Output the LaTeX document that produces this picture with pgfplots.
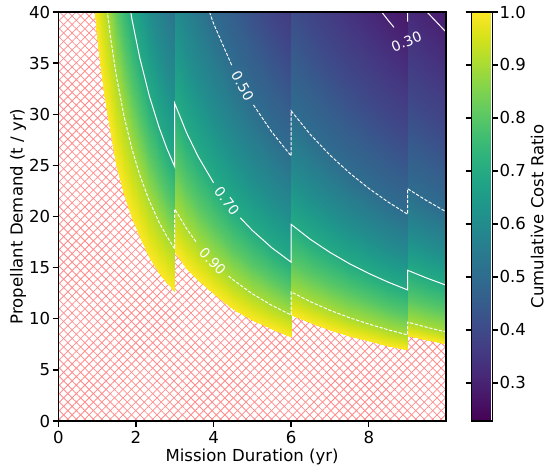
\documentclass[border=0pt]{standalone}
\usepackage{fontspec}
\setmainfont{DejaVu Sans}
\usepackage{pgfplots}
\pgfplotsset{compat=1.18}
\usetikzlibrary{patterns.meta}
\newcommand{\mainfs}{\fontsize{12.4}{14}\selectfont}
\newcommand{\lblfs}{\fontsize{10.5}{12}\selectfont}
\begin{document}
\begin{tikzpicture}
\begin{axis}[
  name=main,
  scale only axis, width=290.8pt, height=306.75pt,
  xmin=0, xmax=9.99, ymin=0, ymax=40,
  xtick={0,2,4,6,8}, ytick={0,5,10,15,20,25,30,35,40},
  tick align=outside, tick pos=left,
  major tick length=4.3pt,
  every tick/.style={black, line width=1pt},
  axis line style={line width=1pt},
  /pgf/number format/assume math mode=true,
  ticklabel style={font=\mainfs},
  yticklabel style={inner xsep=1.5pt},
  label style={font=\mainfs},
  xlabel={Mission Duration (yr)},
  ylabel={Propellant Demand (t / yr)},
  xlabel style={at={(axis description cs:0.5,-0.088)}, anchor=center},
  ylabel style={at={(axis description cs:-0.104,0.5)}, anchor=center},
  colormap/viridis, point meta min=0.228, point meta max=1,
  colorbar,
  colorbar shift/.style={xshift=18.5pt},
  colorbar style={
    width=15.75pt,
    ytick={0.3,0.4,0.5,0.6,0.7,0.8,0.9,1.0},
    tick align=outside, major tick length=4.3pt,
    every tick/.style={black, line width=1pt},
    axis line style={line width=1pt},
    yticklabel style={font=\mainfs, inner xsep=1pt, /pgf/number format/.cd, fixed, fixed zerofill, precision=1, assume math mode=true},
    ylabel={Cumulative Cost Ratio},
    ylabel style={font=\mainfs, at={([xshift=33.75pt]axis description cs:1,0.5)}, anchor=center},
  },
  axis on top,
  axis background/.style={fill=white,
    postaction={pattern={Lines[angle=45,distance=4.5pt,line width=0.6pt]}, pattern color=red!45},
    postaction={pattern={Lines[angle=-45,distance=4.5pt,line width=0.6pt]}, pattern color=red!45}},
]
% segment 1 (t < 3)
\addplot[surf, shader=interp, point meta=explicit, mesh/ordering=y varies, mesh/rows=6, mesh/cols=13]
 table[x index=0, y index=1, meta index=2] {
0.9 41.89 1.0
0.9 56.11 0.9
0.9 68.22 0.8
0.9 82.89 0.7
0.9 105.56 0.6
0.9 138.22 0.5
1.0 37.70 1.0
1.0 50.50 0.9
1.0 61.40 0.8
1.0 74.60 0.7
1.0 95.00 0.6
1.0 124.40 0.5
1.1 34.27 1.0
1.1 45.91 0.9
1.1 55.82 0.8
1.1 67.82 0.7
1.1 86.36 0.6
1.1 113.09 0.5
1.2 31.42 1.0
1.2 42.08 0.9
1.2 51.17 0.8
1.2 62.17 0.7
1.2 79.17 0.6
1.2 103.67 0.5
1.35 27.93 1.0
1.35 37.41 0.9
1.35 45.48 0.8
1.35 55.26 0.7
1.35 70.37 0.6
1.35 92.15 0.5
1.5 25.13 1.0
1.5 33.67 0.9
1.5 40.93 0.8
1.5 49.73 0.7
1.5 63.33 0.6
1.5 82.93 0.5
1.7 22.18 1.0
1.7 29.71 0.9
1.7 36.12 0.8
1.7 43.88 0.7
1.7 55.88 0.6
1.7 73.18 0.5
1.9 19.84 1.0
1.9 26.58 0.9
1.9 32.32 0.8
1.9 39.26 0.7
1.9 50.00 0.6
1.9 65.47 0.5
2.1 17.95 1.0
2.1 24.05 0.9
2.1 29.24 0.8
2.1 35.52 0.7
2.1 45.24 0.6
2.1 59.24 0.5
2.35 16.04 1.0
2.35 21.49 0.9
2.35 26.13 0.8
2.35 31.74 0.7
2.35 40.43 0.6
2.35 52.94 0.5
2.6 14.50 1.0
2.6 19.42 0.9
2.6 23.62 0.8
2.6 28.69 0.7
2.6 36.54 0.6
2.6 47.85 0.5
2.8 13.46 1.0
2.8 18.04 0.9
2.8 21.93 0.8
2.8 26.64 0.7
2.8 33.93 0.6
2.8 44.43 0.5
3.0 12.57 1.0
3.0 16.83 0.9
3.0 20.47 0.8
3.0 24.87 0.7
3.0 31.67 0.6
3.0 41.47 0.5
};
% segment 2 (3 <= t < 6)
\addplot[surf, shader=interp, point meta=explicit, mesh/ordering=y varies, mesh/rows=8, mesh/cols=8]
 table[x index=0, y index=1, meta index=2] {
3.0 16.50 1.0
3.0 20.73 0.9
3.0 25.37 0.8
3.0 31.07 0.7
3.0 40.13 0.6
3.0 51.83 0.5
3.0 69.57 0.4
3.0 92.67 0.3
3.3 15.00 1.0
3.3 18.85 0.9
3.3 23.06 0.8
3.3 28.24 0.7
3.3 36.48 0.6
3.3 47.12 0.5
3.3 63.24 0.4
3.3 84.24 0.3
3.6 13.75 1.0
3.6 17.28 0.9
3.6 21.14 0.8
3.6 25.89 0.7
3.6 33.44 0.6
3.6 43.19 0.5
3.6 57.97 0.4
3.6 77.22 0.3
4.0 12.38 1.0
4.0 15.55 0.9
4.0 19.03 0.8
4.0 23.30 0.7
4.0 30.10 0.6
4.0 38.88 0.5
4.0 52.18 0.4
4.0 69.50 0.3
4.5 11.00 1.0
4.5 13.82 0.9
4.5 16.91 0.8
4.5 20.71 0.7
4.5 26.76 0.6
4.5 34.56 0.5
4.5 46.38 0.4
4.5 61.78 0.3
5.0 9.90 1.0
5.0 12.44 0.9
5.0 15.22 0.8
5.0 18.64 0.7
5.0 24.08 0.6
5.0 31.10 0.5
5.0 41.74 0.4
5.0 55.60 0.3
5.5 9.00 1.0
5.5 11.31 0.9
5.5 13.84 0.8
5.5 16.95 0.7
5.5 21.89 0.6
5.5 28.27 0.5
5.5 37.95 0.4
5.5 50.55 0.3
6.0 8.25 1.0
6.0 10.37 0.9
6.0 12.68 0.8
6.0 15.53 0.7
6.0 20.07 0.6
6.0 25.92 0.5
6.0 34.78 0.4
6.0 46.33 0.3
};
% segment 3 (6 <= t < 9)
\addplot[surf, shader=interp, point meta=explicit, mesh/ordering=y varies, mesh/rows=9, mesh/cols=7]
 table[x index=0, y index=1, meta index=2] {
6.0 10.37 1.0
6.0 12.63 0.9
6.0 15.58 0.8
6.0 19.23 0.7
6.0 24.15 0.6
6.0 30.33 0.5
6.0 41.03 0.4
6.0 55.50 0.3
6.0 64.60 0.25
6.5 9.57 1.0
6.5 11.66 0.9
6.5 14.38 0.8
6.5 17.75 0.7
6.5 22.29 0.6
6.5 28.00 0.5
6.5 37.88 0.4
6.5 51.23 0.3
6.5 59.63 0.25
7.0 8.89 1.0
7.0 10.83 0.9
7.0 13.36 0.8
7.0 16.49 0.7
7.0 20.70 0.6
7.0 26.00 0.5
7.0 35.17 0.4
7.0 47.57 0.3
7.0 55.37 0.25
7.5 8.29 1.0
7.5 10.11 0.9
7.5 12.47 0.8
7.5 15.39 0.7
7.5 19.32 0.6
7.5 24.27 0.5
7.5 32.83 0.4
7.5 44.40 0.3
7.5 51.68 0.25
8.0 7.78 1.0
8.0 9.48 0.9
8.0 11.69 0.8
8.0 14.43 0.7
8.0 18.11 0.6
8.0 22.75 0.5
8.0 30.78 0.4
8.0 41.63 0.3
8.0 48.45 0.25
8.5 7.32 1.0
8.5 8.92 0.9
8.5 11.00 0.8
8.5 13.58 0.7
8.5 17.05 0.6
8.5 21.41 0.5
8.5 28.96 0.4
8.5 39.18 0.3
8.5 45.60 0.25
9.0 6.91 1.0
9.0 8.42 0.9
9.0 10.39 0.8
9.0 12.82 0.7
9.0 16.10 0.6
9.0 20.22 0.5
9.0 27.36 0.4
9.0 37.00 0.3
9.0 43.07 0.25
};
% segment 4 (t >= 9)
\addplot[surf, shader=interp, point meta=explicit, mesh/ordering=y varies, mesh/rows=9, mesh/cols=3]
 table[x index=0, y index=1, meta index=2] {
9.0 8.33 1.0
9.0 9.67 0.9
9.0 11.93 0.8
9.0 14.74 0.7
9.0 18.31 0.6
9.0 22.72 0.5
9.0 30.98 0.4
9.0 42.22 0.3
9.0 49.10 0.25
9.5 7.89 1.0
9.5 9.16 0.9
9.5 11.31 0.8
9.5 13.97 0.7
9.5 17.35 0.6
9.5 21.53 0.5
9.5 29.35 0.4
9.5 40.00 0.3
9.5 46.52 0.25
10.0 7.50 1.0
10.0 8.70 0.9
10.0 10.74 0.8
10.0 13.27 0.7
10.0 16.48 0.6
10.0 20.45 0.5
10.0 27.88 0.4
10.0 38.00 0.3
10.0 44.19 0.25
};
% contour 0.90 (dashed)
\addplot[white, mark=none, line width=0.7pt, dash pattern=on 2.5pt off 1.2pt] coordinates {
(1.2,42.08) (1.35,37.41) (1.5,33.67) (1.7,29.71) (1.9,26.58) (2.1,24.05) (2.35,21.49) (2.6,19.42) (2.8,18.04) (3,16.83) (3,20.73) (3.3,18.85) (3.57,17.42)};
\addplot[white, mark=none, line width=0.7pt, dash pattern=on 2.5pt off 1.2pt] coordinates {
(4.39,14.17) (4.5,13.82) (5,12.44) (5.5,11.31) (6,10.37) (6,12.63) (6.5,11.66) (7,10.83) (7.5,10.11) (8,9.48) (8.5,8.92) (9,8.42) (9,9.67) (9.5,9.16) (10,8.70)};
% contour 0.70 (solid)
\addplot[white, mark=none, line width=0.75pt] coordinates {
(1.7,43.88) (1.9,39.26) (2.1,35.52) (2.35,31.74) (2.6,28.69) (2.8,26.64) (3,24.87) (3,31.07) (3.3,28.24) (3.6,25.89) (4,23.30)};
\addplot[white, mark=none, line width=0.75pt] coordinates {
(4.69,19.87) (5,18.64) (5.5,16.95) (6,15.53) (6,19.23) (6.5,17.75) (7,16.49) (7.5,15.39) (8,14.43) (8.5,13.58) (9,12.82) (9,14.74) (9.5,13.97) (10,13.27)};
% contour 0.50 (dashed)
\addplot[white, mark=none, line width=0.7pt, dash pattern=on 2.5pt off 1.2pt] coordinates {
(3.6,43.19) (4,38.88) (4.47,34.79)};
\addplot[white, mark=none, line width=0.7pt, dash pattern=on 2.5pt off 1.2pt] coordinates {
(5.03,30.91) (5.5,28.27) (6,25.92) (6,30.33) (6.5,28.0) (7,26.0) (7.5,24.27) (8,22.75) (8.5,21.41) (9,20.22) (9,22.72) (9.5,21.53) (10,20.45)};
% contour 0.30 (solid)
\addplot[white, mark=none, line width=0.75pt] coordinates {
(8,41.63) (8.5,39.18) (8.65,38.50)};
\addplot[white, mark=none, line width=0.75pt] coordinates {
(9,39.05) (9,42.22) (9.5,40.0) (10,38.0)};
% contour labels
\node[text=white, font=\lblfs, rotate=-46, inner sep=0pt] at (axis cs:3.98,15.6) {0.90};
\node[text=white, font=\lblfs, rotate=-52.6, inner sep=0pt] at (axis cs:4.345,21.5) {0.70};
\node[text=white, font=\lblfs, rotate=-61, inner sep=0pt] at (axis cs:4.75,32.75) {0.50};
\node[text=white, font=\lblfs, rotate=22, inner sep=0pt] at (axis cs:8.97,37.1) {0.30};
\end{axis}
\pgfresetboundingbox
\path[use as bounding box] ([xshift=-43.7pt,yshift=-36.75pt]main.south west) rectangle ([xshift=75.75pt,yshift=9pt]main.north east);
\end{tikzpicture}
\end{document}
